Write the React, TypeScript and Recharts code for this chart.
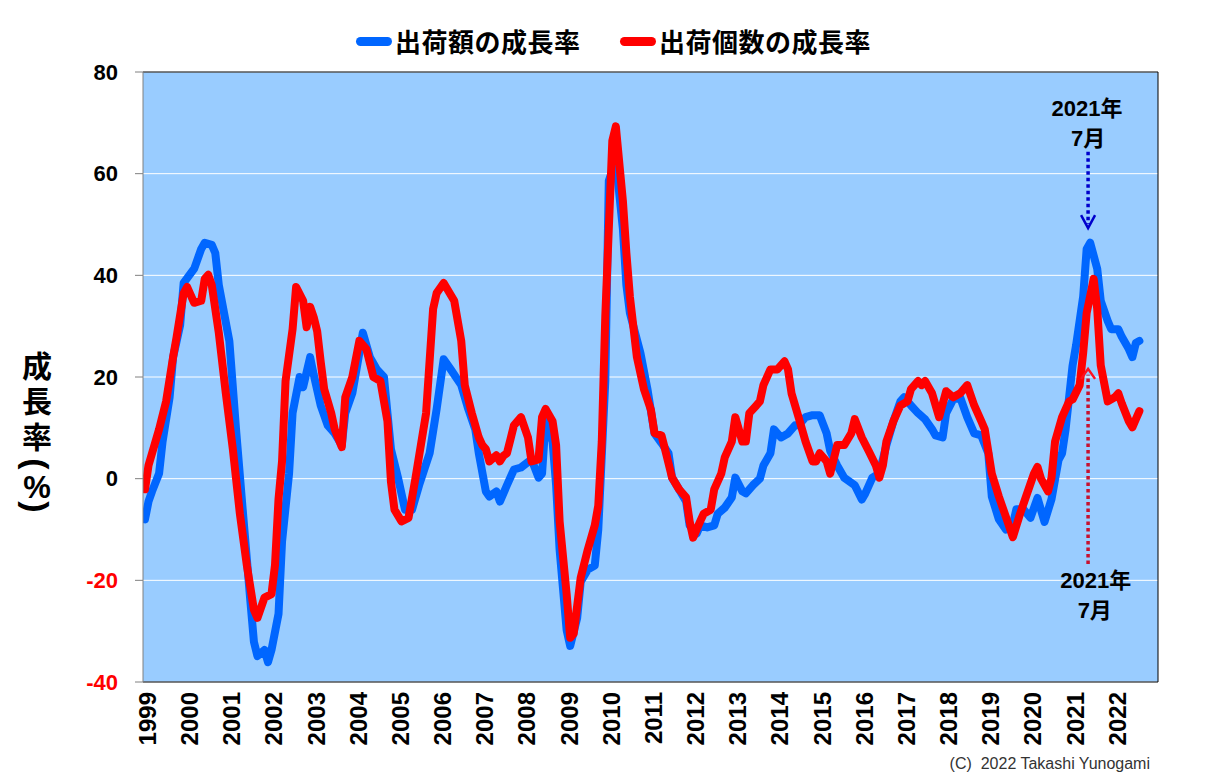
import React from 'react';
import {
  LineChart,
  Line,
  XAxis,
  YAxis,
  CartesianGrid,
  ReferenceLine,
  ReferenceDot,
} from 'recharts';

// Month index 0 = 1999年1月, values = year-on-year growth rate (%)
const amountGrowth: [number, number][] = [
  [0, -8], [1, -4.5], [2, -2.5], [4, 1], [5, 7.3], [7, 16], [8, 23.9], [10, 30.2], [11, 38.5],
  [14, 41.3], [16, 45.2], [17, 46.4], [19, 46], [20, 44.4], [21, 38.1], [24, 27.1], [26, 8.9],
  [28, -7.7], [30, -24.2], [31, -32.1], [32, -34.9], [34, -33.7], [35, -36.1], [36, -33.7],
  [38, -26.6], [39, -12.4], [41, 1], [42, 12.9], [44, 20], [45, 18], [47, 23.9], [48, 20.5],
  [50, 14.4], [52, 10.5], [54, 8.9], [56, 6.6], [57, 12.9], [59, 16.8], [62, 28.7], [64, 23.9],
  [66, 21.5], [68, 20], [70, 5.8], [72, 0.2], [74, -6.1], [76, -6.1], [78, -1.3], [81, 5],
  [83, 13.7], [85, 23.5], [87, 21.5], [90, 18.4], [92, 13.7], [94, 9.7], [95, 5], [97, -2.5],
  [98, -3.5], [100, -2.5], [101, -4.5], [103, -1.3], [105, 1.8], [107, 2.2], [110, 3.8],
  [112, 0.2], [113, 1], [114, 11.3], [116, 7.3], [117, -1.3], [118, -14], [120, -29.8],
  [121, -32.9], [123, -27.4], [124, -20.3], [126, -17.9], [128, -17.1], [129, -10], [131, 19.2],
  [132, 58.6], [134, 62.6], [136, 49.2], [137, 38.1], [138, 32.6], [141, 24.7], [143, 17.6],
  [145, 8.9], [147, 7], [149, 5], [150, 0.2], [152, -2.1], [154, -4.5], [155, -9.2],
  [157, -10.8], [158, -9.2], [160, -9.6], [162, -9.2], [163, -6.9], [165, -5.7], [167, -3.7],
  [168, 0.2], [170, -2.5], [171, -2.9], [173, -1.3], [175, 0], [176, 2.6], [178, 5], [179, 9.7],
  [181, 8.1], [183, 8.9], [185, 10.5], [186, 10.5], [188, 12.1], [190, 12.5], [192, 12.5],
  [194, 8.9], [195, 5.5], [197, 2.6], [199, 0.2], [202, -1.3], [204, -4.1], [205, -2.9],
  [207, 0.2], [209, 1], [211, 6.6], [213, 11.3], [215, 15.2], [216, 16], [218, 14.4],
  [220, 12.9], [222, 11.7], [224, 9.7], [225, 8.5], [227, 8.1], [228, 12.9], [230, 15.6],
  [232, 16], [234, 12.1], [236, 8.9], [238, 8.5], [240, 5], [241, -3.5], [243, -8], [245, -10],
  [247, -9], [248, -6], [250, -6], [252, -7.7], [254, -3.8], [256, -8.5], [258, -4],
  [260, 3.7], [261, 5], [262, 9.7], [264, 22.3], [265, 26.3], [267, 35.8], [268, 45.2],
  [269, 46.4], [271, 41.3], [272, 35], [274, 31], [275, 29.4], [277, 29.4], [278, 27.9],
  [280, 25.5], [281, 23.9], [282, 26.7], [283, 27.1],
];

const unitGrowth: [number, number][] = [
  [0, -2.1], [1, 2.6], [4, 9.7], [6, 15.2], [8, 23.9], [9, 27.9], [11, 36.5], [12, 37.7],
  [14, 34.6], [16, 35], [17, 39.3], [18, 40.1], [19, 38.1], [21, 28.7], [23, 16.8], [25, 5.8],
  [27, -6.9], [29, -17.1], [31, -25.8], [32, -27.4], [34, -23.4], [36, -22.7], [37, -17],
  [38, -4], [39, 3.4], [40, 19.2], [42, 29.4], [43, 37.7], [45, 35], [46, 29.8], [47, 33.8],
  [48, 31.8], [49, 29], [50, 23], [51, 17.6], [53, 12.9], [54, 9.7], [56, 6.2], [57, 16],
  [59, 20], [61, 27.1], [63, 25.5], [65, 20], [67, 19.2], [69, 11.3], [70, -0.6], [71, -6.1],
  [73, -8.4], [75, -7.7], [77, 0.2], [80, 12.9], [82, 33.4], [83, 36.5], [85, 38.5], [88, 35],
  [90, 27.1], [91, 18.4], [93, 12.9], [95, 8.1], [96, 6.6], [97, 5.8], [98, 3.4], [100, 4.6],
  [101, 3.4], [102, 4.5], [103, 5], [104, 7.7], [105, 10.5], [107, 12.1], [109, 8.1],
  [110, 3.4], [112, 3.8], [113, 12.1], [114, 13.7], [116, 11.3], [117, 6.6], [118, -8.4],
  [120, -22.7], [121, -31.3], [122, -30.5], [124, -19.5], [126, -14], [128, -9.2], [129, -5.3],
  [130, 7.3], [131, 32], [133, 66.5], [134, 69.3], [136, 54.7], [137, 44.4], [138, 35.8],
  [140, 23.9], [142, 17.6], [144, 13.5], [145, 9], [147, 8.5], [148, 5.8], [150, 0.2],
  [152, -2.1], [154, -3.7], [155, -8.4], [156, -11.6], [158, -8.4], [159, -6.9], [161, -6.1],
  [162, -2.1], [164, 1], [165, 4.2], [167, 7.3], [168, 12.1], [170, 7.3], [171, 7.3],
  [172, 12.9], [174, 14.4], [175, 15.2], [176, 18.4], [178, 21.5], [180, 21.5], [182, 23.1],
  [183, 21.5], [184, 16.8], [186, 12.1], [188, 7.3], [190, 3.4], [191, 3.4], [192, 5],
  [194, 3.4], [195, 1], [197, 6.6], [199, 6.6], [201, 8.9], [202, 11.7], [204, 8.1], [206, 5.4],
  [208, 2.6], [209, 0.2], [210, 2.6], [211, 7.3], [213, 11.3], [215, 14.4], [217, 15.2],
  [218, 17.6], [220, 19.2], [221, 18.4], [222, 19.2], [224, 16.8], [226, 12.1], [228, 17.2],
  [230, 16], [232, 16.8], [234, 18.4], [236, 14.4], [238, 11.3], [239, 9.7], [241, 1],
  [243, -3.5], [245, -7.5], [247, -11.5], [249, -7], [251, -3], [253, 1], [254, 2.3],
  [255, 0], [257, -2.5], [258, 0.2], [259, 7.3], [261, 12.1], [263, 15.2], [264, 15.6],
  [266, 18.4], [267, 24.7], [268, 32.6], [270, 39.3], [271, 33.4], [272, 22.3], [274, 15.2],
  [276, 16], [277, 16.8], [278, 14.8], [280, 11.3], [281, 10.1], [282, 11.7], [283, 13.3],
];

const yearLabels: string[] = [
  '1999', '2000', '2001', '2002', '2003', '2004', '2005', '2006', '2007', '2008', '2009', '2010',
  '2011', '2012', '2013', '2014', '2015', '2016', '2017', '2018', '2019', '2020', '2021', '2022',
];
const yTicks: number[] = [-40, -20, 0, 20, 40, 60, 80];
const seriesNames: string[] = ['出荷額の成長率', '出荷個数の成長率'];
const seriesColors: string[] = ['#0066FF', '#FF0000'];
const peakNote: string[] = ['2021年', '7月'];
const peakMonth = 268.4;

const amountData = amountGrowth.map(([m, v]) => ({ m, v }));
const unitData = unitGrowth.map(([m, v]) => ({ m, v }));
const yearTicks = yearLabels.map((_, i) => i * 12);

const X_MIN = -0.57;
const X_MAX = 288.3;

const W = 1201;
const H = 768;

const narrow = "'Liberation Sans Narrow','Arial Narrow','Liberation Sans',Arial,sans-serif";
const sans = "'Liberation Sans',Arial,'Noto Sans CJK JP',sans-serif";
const cjk = "'Liberation Sans',Arial,'Noto Sans CJK JP',sans-serif";

const YTick = (props: any) => {
  const { x, y, payload } = props;
  const v = payload.value;
  return (
    <text
      x={x}
      y={y}
      textAnchor="end"
      dominantBaseline="central"
      fontFamily={narrow}
      fontWeight="bold"
      fontSize={22}
      fill={v < 0 ? '#FF0000' : '#000000'}
    >
      {v}
    </text>
  );
};

const XTick = (props: any) => {
  const { x, y, payload } = props;
  const label = yearLabels[Math.round(payload.value / 12)];
  return (
    <text
      x={x}
      y={y}
      dy={11}
      transform={`rotate(-90, ${x}, ${y})`}
      textAnchor="end"
      fontFamily={sans}
      fontWeight="bold"
      fontSize={24}
      fill="#000"
    >
      {label}
    </text>
  );
};

const YTitle = (props: any) => {
  const vb = props.viewBox || { x: 0, y: 64, width: 135, height: 610 };
  const cx = vb.x + 29;
  const top = vb.y;
  const common = { textAnchor: 'middle' as const, dominantBaseline: 'central' as const, fill: '#000' };
  return (
    <g>
      <text x={cx} y={top + 294} fontSize={30} fontWeight="bold" fontFamily={cjk} {...common}>成</text>
      <text x={cx} y={top + 329} fontSize={30} fontWeight="bold" fontFamily={cjk} {...common}>長</text>
      <text x={cx} y={top + 365} fontSize={30} fontWeight="bold" fontFamily={cjk} {...common}>率</text>
      <text x={cx} y={top + 392} fontSize={34} fontWeight="bold" fontFamily={sans} transform={`rotate(90, ${cx}, ${top + 392})`} {...common}>(</text>
      <text x={cx} y={top + 415} fontSize={31} fontWeight="bold" fontFamily={sans} {...common}>%</text>
      <text x={cx} y={top + 435} fontSize={34} fontWeight="bold" fontFamily={sans} transform={`rotate(90, ${cx}, ${top + 435})`} {...common}>)</text>
    </g>
  );
};

const DownArrow = (props: any) => {
  const { x1, y1, x2, y2 } = props;
  const c = '#0000CC';
  return (
    <g>
      <line x1={x1} y1={y1} x2={x2} y2={y2 - 4} stroke={c} strokeWidth={3.5} strokeDasharray="3.5 3" />
      <polyline points={`${x2 - 7},${y2 - 13} ${x2},${y2} ${x2 + 7},${y2 - 13}`} fill="none" stroke={c} strokeWidth={2.5} />
    </g>
  );
};

const UpArrow = (props: any) => {
  const { x1, y1, x2, y2 } = props;
  return (
    <g>
      <line x1={x1} y1={y1} x2={x2} y2={y2 + 6} stroke="#C8102E" strokeWidth={3.5} strokeDasharray="3.5 3" />
      <polyline points={`${x2 - 7},${y2 + 10} ${x2},${y2} ${x2 + 7},${y2 + 10}`} fill="none" stroke="#FF1020" strokeWidth={2.5} />
    </g>
  );
};

const noteShape = (text: string) => (p: any) => (
  <text
    x={p.cx}
    y={p.cy}
    textAnchor="middle"
    dominantBaseline="central"
    fontFamily={cjk}
    fontWeight="bold"
    fontSize={22}
    fill="#000"
  >
    {text}
  </text>
);

const LegendItem = ({ color, name, left }: { color: string; name: string; left: number }) => (
  <div style={{ position: 'absolute', left, top: 18, height: 30, display: 'flex', alignItems: 'center' }}>
    <span style={{ display: 'inline-block', width: 36, height: 9, borderRadius: 5, background: color, marginRight: 3 }} />
    <span style={{ fontFamily: "'Noto Sans CJK JP',sans-serif", fontWeight: 700, fontSize: 26, lineHeight: '30px', color: '#000', letterSpacing: 0.5 }}>
      {name}
    </span>
  </div>
);

export default function App() {
  return (
    <div style={{ position: 'relative', width: W, height: H, background: '#fff', fontFamily: sans }}>
      <LineChart width={W} height={H} margin={{ top: 64, right: W - 1150, bottom: 14, left: 0 }}>
        <CartesianGrid vertical={false} stroke="#FFFFFF" strokeWidth={1} fill="#99CCFF" fillOpacity={1} />
        <XAxis
          type="number"
          dataKey="m"
          domain={[X_MIN, X_MAX]}
          allowDataOverflow
          ticks={yearTicks}
          interval={0}
          tick={<XTick />}
          tickLine={false}
          tickSize={0}
          tickMargin={10}
          axisLine={false}
          height={80}
        />
        <YAxis
          type="number"
          domain={[-40, 80]}
          ticks={yTicks}
          interval={0}
          width={135}
          tick={<YTick />}
          tickSize={8}
          tickMargin={17}
          tickLine={{ stroke: '#808080' }}
          axisLine={{ stroke: '#808080' }}
          label={{ content: <YTitle /> }}
        />
        <ReferenceLine y={80} stroke="#000" strokeWidth={1} />
        <ReferenceLine y={-40} stroke="#000" strokeWidth={1} />
        <ReferenceLine x={X_MAX} stroke="#000" strokeWidth={1} />
        <Line
          data={amountData}
          dataKey="v"
          name={seriesNames[0]}
          type="linear"
          stroke={seriesColors[0]}
          strokeWidth={8}
          strokeLinejoin="round"
          strokeLinecap="round"
          dot={false}
          activeDot={false}
          isAnimationActive={false}
        />
        <Line
          data={unitData}
          dataKey="v"
          name={seriesNames[1]}
          type="linear"
          stroke={seriesColors[1]}
          strokeWidth={8}
          strokeLinejoin="round"
          strokeLinecap="round"
          dot={false}
          activeDot={false}
          isAnimationActive={false}
        />
        <ReferenceLine
          segment={[{ x: peakMonth, y: 64.3 }, { x: peakMonth, y: 49.3 }]}
          shape={(p: any) => <DownArrow {...p} />}
        />
        <ReferenceLine
          segment={[{ x: peakMonth, y: -16.8 }, { x: peakMonth, y: 21.6 }]}
          shape={(p: any) => <UpArrow {...p} />}
        />
        <ReferenceDot x={268.1} y={72.9} r={0} shape={noteShape(peakNote[0])} />
        <ReferenceDot x={268.4} y={67.0} r={0} shape={noteShape(peakNote[1])} />
        <ReferenceDot x={270.6} y={-20.1} r={0} shape={noteShape(peakNote[0])} />
        <ReferenceDot x={270.3} y={-26.0} r={0} shape={noteShape(peakNote[1])} />
      </LineChart>
      <LegendItem color={seriesColors[0]} name={seriesNames[0]} left={348} />
      <LegendItem color={seriesColors[1]} name={seriesNames[1]} left={612} />
      <div
        style={{
          position: 'absolute',
          right: W - 1142,
          top: 747,
          fontFamily: narrow,
          fontSize: 16,
          lineHeight: '18px',
          color: '#333',
          whiteSpace: 'pre',
        }}
      >
        {'(C)  2022 Takashi Yunogami'}
      </div>
    </div>
  );
}
